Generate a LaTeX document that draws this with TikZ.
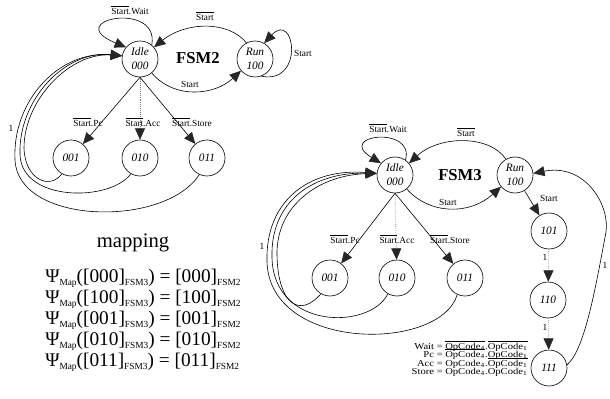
\documentclass[tikz,border=0pt]{standalone}
\usepackage{graphicx}
\usepackage{fontspec}
\setmainfont{Liberation Serif}
\usetikzlibrary{arrows.meta}
\newcommand\nbar[1]{$\overline{\mbox{#1}}$}
\newcommand\mysb[1]{\raisebox{-0.4ex}{\fontsize{7}{8}\selectfont #1}}
\newcommand\wid[1]{\scalebox{1.17}[1]{#1}}
\tikzset{
 stnode/.style={draw, circle, minimum size=27pt, inner sep=0pt, align=center, font=\fontsize{8.5}{10.5}\selectfont\itshape, line width=0.45pt},
 conn/.style={draw, line width=0.45pt, -{Triangle[length=8.5pt,width=7.5pt,color=black!85]}},
 dotconn/.style={conn, densely dotted, draw=black!55},
 lbl/.style={font=\fontsize{7}{8}\selectfont, inner sep=0.5pt},
 ttl/.style={font=\fontsize{12.5}{14}\selectfont\bfseries},
 eqn/.style={font=\fontsize{14.5}{17}\selectfont, anchor=base west, inner sep=0pt},
 leg/.style={font=\fontsize{6.8}{7}\selectfont, inner sep=0pt},
}
\begin{document}
\begin{tikzpicture}[x=0.75pt,y=-0.75pt]
\useasboundingbox (0,0) rectangle (610,399);
% ---------------- FSM2 ----------------
\node[stnode] (idleA) at (140,59) {Idle\\000};
\node[stnode] (runA) at (255,59) {Run\\100};
\node[stnode] (aA) at (71,158) {001};
\node[stnode] (bA) at (140,158) {010};
\node[stnode] (cA) at (207,158) {011};
\node[ttl] (tA) at (198,58) {FSM2};

\draw[conn] (idleA.50) .. controls (160,0) and (60,20) .. (idleA.140);
\node[lbl] (lA1) at (130,10) {\nbar{Start}.Wait};
\draw[conn] (runA.118) .. controls (228,20) and (185,22) .. (idleA.40);
\node[lbl] (lA2) at (205,16) {\nbar{Start}};
\draw[conn] (idleA.-50) .. controls (175,100) and (215,95) .. (runA.-140);
\node[lbl] (lA3) at (190,84) {Start};
\draw[conn] (runA.-70) .. controls (305,85) and (295,10) .. (runA.60);
\node[lbl] (lA4) at (303,53) {Start};

\draw[conn] (idleA.south) -- (aA);
\draw[dotconn] (idleA.south) -- (bA);
\draw[conn] (idleA.south) -- (cA);
\node[lbl] (lA5) at (88,122) {\nbar{Start}.Pc};
\node[lbl] (lA6) at (143,122) {\nbar{Start}.Acc};
\node[lbl] (lA7) at (192,122) {\nbar{Start}.Store};

\draw[conn] (aA.-120) .. controls (50,190) and (25,180) .. (24,148) .. controls (24,100) and (70,52) .. (idleA.170);
\draw[conn] (bA.-120) .. controls (110,202) and (22,202) .. (20,155) .. controls (18,100) and (65,50) .. (idleA.170);
\draw[conn] (cA.-115) .. controls (165,228) and (18,225) .. (15,160) .. controls (12,100) and (60,50) .. (idleA.170);
\node[lbl] (lA8) at (11,128) {1};

% ---------------- mapping ----------------
\node[font=\fontsize{15.5}{18}\selectfont, inner sep=0pt] (mp) at (133,243) {mapping};
\node[eqn] (m1) at (45,282) {Ψ\mysb{Map}([000]\mysb{FSM3}) = [000]\mysb{FSM2}};
\node[eqn] (m2) at (45,303) {Ψ\mysb{Map}([100]\mysb{FSM3}) = [100]\mysb{FSM2}};
\node[eqn] (m3) at (45,324) {Ψ\mysb{Map}([001]\mysb{FSM3}) = [001]\mysb{FSM2}};
\node[eqn] (m4) at (45,345) {Ψ\mysb{Map}([010]\mysb{FSM3}) = [010]\mysb{FSM2}};
\node[eqn] (m5) at (45,366) {Ψ\mysb{Map}([011]\mysb{FSM3}) = [011]\mysb{FSM2}};

% ---------------- FSM3 ----------------
\node[stnode] (idleB) at (395,175) {Idle\\000};
\node[stnode] (runB) at (515,175) {Run\\100};
\node[stnode] (aB) at (330,278) {001};
\node[stnode] (bB) at (397,278) {010};
\node[stnode] (cB) at (465,278) {011};
\node[stnode] (dB) at (549,231) {101};
\node[stnode] (eB) at (548,300) {110};
\node[stnode] (fB) at (549,368) {111};
\node[ttl] (tB) at (460,175) {FSM3};

\draw[conn] (idleB.55) .. controls (415,125) and (335,135) .. (idleB.140);
\node[lbl] (lB1) at (388,128) {\nbar{Start}.Wait};
\draw[conn] (runB.120) .. controls (490,135) and (440,135) .. (idleB.40);
\node[lbl] (lB2) at (466,132) {\nbar{Start}};
\draw[conn] (idleB.-50) .. controls (430,215) and (470,215) .. (runB.-140);
\node[lbl] (lB3) at (448,202) {Start};

\draw[conn] (runB) -- (dB);
\node[lbl] (lB4) at (549,198) {Start};
\draw[dotconn] (dB) -- (eB);
\node[lbl] (lB5) at (545,257) {1};
\draw[dotconn] (eB) -- (fB);
\node[lbl] (lB6) at (545,327) {1};
\draw[conn] (fB.10) .. controls (585,350) and (596,285) .. (606,232) .. controls (610,205) and (585,163) .. (runB.5);
\node[lbl] (lB7) at (605,265) {1};

\draw[conn] (idleB.south) -- (aB);
\draw[dotconn] (idleB.south) -- (bB);
\draw[conn] (idleB.south) -- (cB);
\node[lbl] (lB8) at (345,239) {\nbar{Start}.Pc};
\node[lbl] (lB9) at (397,239) {\nbar{Start}.Acc};
\node[lbl] (lB10) at (450,239) {\nbar{Start}.Store};

\draw[conn] (aB.-120) .. controls (300,318) and (278,305) .. (277,255) .. controls (276,205) and (320,175) .. (idleB.175);
\draw[conn] (bB.-120) .. controls (370,330) and (274,330) .. (272,258) .. controls (270,200) and (315,172) .. (idleB.175);
\draw[conn] (cB.-115) .. controls (440,352) and (270,352) .. (267,262) .. controls (265,200) and (310,168) .. (idleB.175);
\node[lbl] (lB11) at (262,246) {1};

% legend
\node[leg, anchor=base east] (w1) at (443,349) {\wid{Wait =}};
\node[leg, anchor=base west] (w2) at (445,349) {\wid{\nbar{OpCode\textsubscript{4}}.\nbar{OpCode\textsubscript{1}}}};
\node[leg, anchor=base east] (p1) at (443,357.5) {\wid{Pc =}};
\node[leg, anchor=base west] (p2) at (445,357.5) {\wid{\nbar{OpCode\textsubscript{4}}.OpCode\textsubscript{1}}};
\node[leg, anchor=base east] (c1) at (443,366) {\wid{Acc =}};
\node[leg, anchor=base west] (c2) at (445,366) {\wid{OpCode\textsubscript{4}.\nbar{OpCode\textsubscript{1}}}};
\node[leg, anchor=base east] (s1) at (443,374.5) {\wid{Store =}};
\node[leg, anchor=base west] (s2) at (445,374.5) {\wid{OpCode\textsubscript{4}.OpCode\textsubscript{1}}};
\end{tikzpicture}
\end{document}
